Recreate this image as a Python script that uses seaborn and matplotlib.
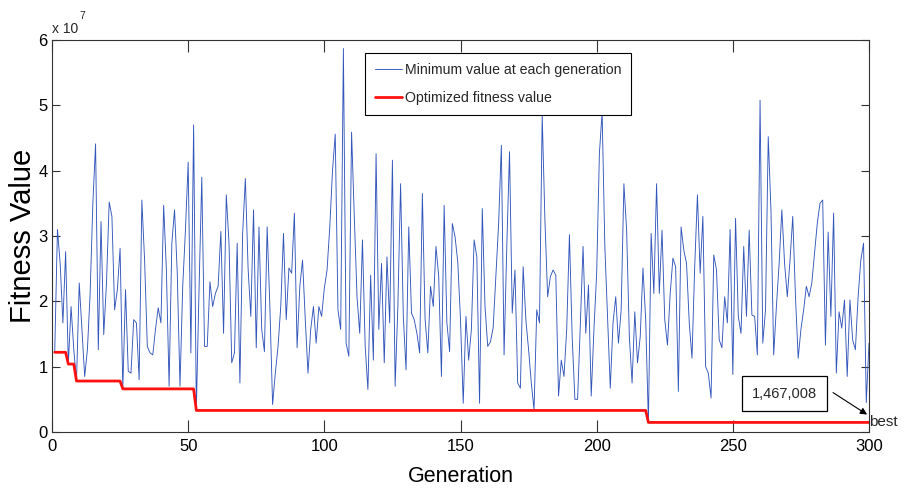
import numpy as np
import pandas as pd
import matplotlib
matplotlib.use("Agg")
import matplotlib.pyplot as plt
import seaborn as sns
from matplotlib.ticker import FuncFormatter

# ---------------- data (values in units of 1e7) ----------------
generations = list(range(1, 301))
min_values_e7 = [
    1.22, 3.10, 2.58, 1.67, 2.76, 1.04, 1.92, 1.26, 0.78, 2.28,
    1.57, 0.85, 1.26, 2.12, 3.50, 4.41, 1.26, 3.22, 1.49, 2.28,
    3.52, 3.30, 1.87, 2.18, 2.81, 0.66, 2.18, 0.93, 0.90, 1.72,
    1.67, 0.80, 3.55, 2.63, 1.31, 1.21, 1.18, 1.57, 1.90, 1.67,
    3.47, 2.48, 0.70, 2.89, 3.40, 2.43, 0.70, 2.23, 3.09, 4.13,
    1.21, 4.70, 0.33, 2.20, 3.90, 1.31, 1.31, 2.30, 1.92, 2.12,
    2.23, 3.07, 1.51, 3.63, 2.89, 1.06, 1.21, 2.89, 0.75, 3.04,
    3.88, 2.51, 1.77, 3.40, 1.29, 3.14, 1.57, 1.23, 3.14, 1.92,
    0.42, 0.90, 1.31, 1.92, 3.04, 1.72, 2.51, 2.43, 3.35, 1.29,
    2.23, 2.63, 1.72, 0.90, 1.57, 1.92, 1.36, 1.92, 1.77, 2.20,
    2.48, 3.14, 4.00, 4.56, 1.87, 1.57, 5.87, 1.36, 1.16, 4.59,
    3.30, 2.07, 1.51, 2.94, 1.31, 0.65, 2.40, 1.10, 4.26, 1.57,
    2.58, 1.06, 2.68, 1.67, 4.16, 0.70, 1.92, 3.80, 1.77, 0.95,
    3.14, 1.82, 1.72, 1.51, 1.21, 3.65, 1.72, 1.21, 2.23, 1.92,
    2.84, 2.38, 0.85, 3.47, 1.67, 1.23, 3.19, 2.99, 2.60, 1.72,
    0.44, 1.77, 1.10, 1.57, 2.94, 2.68, 0.44, 3.42, 1.92, 1.31,
    1.38, 1.60, 2.40, 3.19, 4.39, 1.18, 2.84, 4.29, 1.82, 2.48,
    0.75, 0.67, 2.53, 1.72, 1.26, 0.75, 0.34, 1.87, 1.67, 4.85,
    3.24, 2.07, 2.38, 2.48, 2.40, 0.55, 1.10, 0.85, 1.57, 3.02,
    1.46, 0.50, 0.50, 1.64, 2.84, 1.51, 2.25, 0.55, 1.57, 2.43,
    4.26, 4.90, 2.84, 1.77, 0.67, 1.67, 2.07, 1.36, 1.87, 3.80,
    3.09, 1.46, 0.75, 1.84, 1.06, 1.46, 2.51, 1.72, 0.1467008, 3.04,
    2.12, 3.80, 2.12, 3.09, 1.72, 1.33, 2.12, 2.66, 2.53, 0.62,
    3.14, 2.78, 2.58, 1.67, 1.13, 2.53, 3.63, 2.43, 3.30, 1.00,
    0.90, 0.52, 2.71, 2.48, 1.41, 1.29, 2.07, 1.67, 3.10, 0.88,
    3.27, 1.77, 1.51, 2.84, 1.77, 3.09, 1.79, 1.77, 1.18, 5.08,
    1.36, 1.87, 4.52, 3.40, 1.18, 1.92, 2.58, 3.40, 2.58, 2.07,
    2.63, 3.30, 2.07, 1.13, 1.57, 1.87, 2.23, 2.07, 2.28, 2.73,
    3.19, 3.50, 3.55, 1.33, 3.06, 1.77, 3.35, 0.90, 1.84, 1.59,
    2.02, 0.85, 2.02, 1.41, 1.26, 2.07, 2.63, 2.89, 0.45, 1.36,
]
scale = 1e7
best_label = "1,467,008"
series_labels = ["Minimum value at each generation", "Optimized fitness value"]
x_ticks = [0, 50, 100, 150, 200, 250, 300]
y_ticks_e7 = [0, 1, 2, 3, 4, 5, 6]

# ---------------- style ----------------
sns.set_theme(style="white")
FONT = ["Liberation Sans", "DejaVu Sans"]
plt.rcParams["font.family"] = FONT

blue = np.array(min_values_e7) * scale
best = np.minimum.accumulate(blue)
df = pd.DataFrame({"Generation": generations, "Minimum": blue, "Best": best})

fig = plt.figure(figsize=(9.05, 4.93), dpi=100)
ax = fig.add_axes([52 / 905, 61 / 493, 817 / 905, 392 / 493])

sns.lineplot(data=df, x="Generation", y="Minimum", ax=ax, color="#3356bb",
             lw=0.65, estimator=None, label=series_labels[0], legend=False)
sns.lineplot(data=df, x="Generation", y="Best", ax=ax, color="#ff1010",
             lw=2.0, estimator=None, label=series_labels[1], legend=False)

ax.set_xlim(0, 300)
ax.set_ylim(0, 6 * scale)
ax.set_xticks(x_ticks)
ax.set_yticks([v * scale for v in y_ticks_e7])
ax.yaxis.set_major_formatter(FuncFormatter(lambda v, p: f"{v / scale:g}"))

for sp in ax.spines.values():
    sp.set_color("#333333")
    sp.set_linewidth(0.8)
ax.tick_params(axis="x", direction="in", top=True, bottom=True, length=8.6,
               width=0.8, color="#333333", labelsize=12, pad=5, labelcolor="black")
ax.tick_params(axis="y", direction="in", left=True, right=True, length=5.8,
               width=0.8, color="#333333", labelsize=12, pad=3, labelcolor="black")

ax.set_xlabel("Generation", fontsize=15.5, labelpad=9, color="black")
ax.set_ylabel("Fitness Value", fontsize=21, labelpad=0.8, color="black")

# exponent label (MATLAB style)
fig.text(52 / 905, 1 - 33 / 493, "x 10", ha="left", va="baseline", fontsize=10)
fig.text(79 / 905, 1 - 19 / 493, "7", ha="left", va="baseline", fontsize=7.5)

handles = ax.get_lines()[:2]
leg = ax.legend(handles, series_labels, loc="upper left",
                bbox_to_anchor=(0.383, 0.967), borderaxespad=0, frameon=True,
                fancybox=False, edgecolor="black", framealpha=1, fontsize=10.2,
                handlelength=1.9, handletextpad=0.2, borderpad=0.7,
                labelspacing=1.0)
leg.get_frame().set_linewidth(0.8)

# annotation of the best value
ax.text(300, best[-1], "best", ha="left", va="center", fontsize=11)
ax.text(269, 0.588 * scale, best_label, ha="center", va="center", fontsize=10.5,
        bbox=dict(boxstyle="square,pad=0.7", fc="white", ec="black", lw=0.9))
ax.annotate("", xy=(299.3, 0.267 * scale), xytext=(286.8, 0.603 * scale),
            arrowprops=dict(arrowstyle="-|>", color="black", lw=0.8,
                            mutation_scale=10, shrinkA=0, shrinkB=0))

fig.savefig("out.png", dpi=100)
